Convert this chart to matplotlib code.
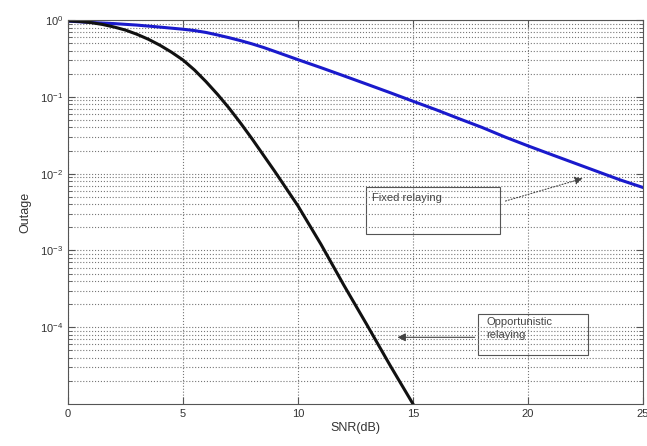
import matplotlib
matplotlib.use("Agg")
import matplotlib.pyplot as plt
import numpy as np

# SNR in dB and outage probabilities
snr_db = [0, 1, 2, 3, 4, 5, 5.5, 6, 6.5, 7, 7.5, 8, 8.5, 9, 10, 11, 12, 13,
          14, 15, 16, 17, 18, 19, 20, 21, 22, 23, 24, 25]
fixed_outage = [0.97, 0.93, 0.90, 0.86, 0.81, 0.76, 0.73, 0.69, 0.64, 0.59,
                0.54, 0.49, 0.44, 0.39, 0.305, 0.240, 0.1875, 0.146, 0.1135,
                0.0877, 0.068, 0.052, 0.040, 0.030, 0.023, 0.0178, 0.0138,
                0.0107, 0.0083, 0.0066]

opp_snr_db = [0, 0.5, 1, 1.5, 2, 2.5, 3, 3.5, 4, 4.5, 5, 5.5, 6, 6.5, 7, 7.5,
              8, 9, 10, 11, 12, 13, 14, 15]
opp_outage = [0.977, 0.959, 0.927, 0.877, 0.813, 0.741, 0.653, 0.562, 0.470,
              0.382, 0.302, 0.224, 0.158, 0.108, 0.0716, 0.0457, 0.0285,
              0.0106, 0.0038, 0.0012, 3.5e-4, 1.07e-4, 3.2e-5, 1.0e-5]

ytick_vals = [1e-4, 1e-3, 1e-2, 1e-1, 1e0]
xtick_vals = [0, 5, 10, 15, 20, 25]

plt.rcParams['font.family'] = ['Liberation Sans', 'DejaVu Sans']
txt = '#333333'

fig = plt.figure(figsize=(6.47, 4.46), dpi=100)
ax = fig.add_axes([0.105, 0.094, 0.889, 0.861])

ax.semilogy(snr_db, fixed_outage, color='#1a1acc', lw=2.2)
ax.semilogy(opp_snr_db, opp_outage, color='#111111', lw=2.2)

ax.set_xlim(0, 25)
ax.set_ylim(1e-5, 1)
ax.set_xticks(xtick_vals)
ax.set_yticks(ytick_vals)
ax.yaxis.set_minor_locator(matplotlib.ticker.LogLocator(base=10, subs=np.arange(2, 10)))
ax.yaxis.set_minor_formatter(matplotlib.ticker.NullFormatter())

ax.grid(True, which='major', axis='both', linestyle=':', color='#777777', lw=0.8)
ax.grid(True, which='minor', axis='y', linestyle=':', color='#777777', lw=0.8)

ax.tick_params(which='both', direction='in', colors='#555555', labelcolor=txt,
               labelsize=8, top=True, right=True)
ax.tick_params(which='major', length=5)
ax.tick_params(which='minor', length=3)
for s in ax.spines.values():
    s.set_color('#555555')

ax.set_xlabel('SNR(dB)', fontsize=9, color=txt, labelpad=2)
ax.set_ylabel('Outage', fontsize=9, color=txt, labelpad=6)

# annotation boxes with arrows
ax.annotate('', xy=(22.5, 8.9e-3), xytext=(18.9, 4.3e-3),
            arrowprops=dict(arrowstyle='-|>', color='#444444', lw=0.8,
                            linestyle=':', mutation_scale=12))
ax.text(13.2, 10**-2.25, 'Fixed relaying', fontsize=8, color='#444444',
        va='top', ha='left')
ax.add_patch(plt.Rectangle((12.96, 10**-2.78), 18.8 - 12.96, 10**-2.18 - 10**-2.78,
                           fill=False, ec='#555555', lw=0.8))

ax.annotate('', xy=(14.2, 7.4e-5), xytext=(17.8, 7.4e-5),
            arrowprops=dict(arrowstyle='-|>', color='#444444', lw=0.8,
                            mutation_scale=12))
ax.text(18.2, 10**-3.86, 'Opportunistic\nrelaying', fontsize=8, color='#444444',
        va='top', ha='left', linespacing=1.4)
ax.add_patch(plt.Rectangle((17.83, 10**-4.36), 22.6 - 17.83, 10**-3.83 - 10**-4.36,
                           fill=False, ec='#555555', lw=0.8))

fig.savefig('out.png', dpi=100)
